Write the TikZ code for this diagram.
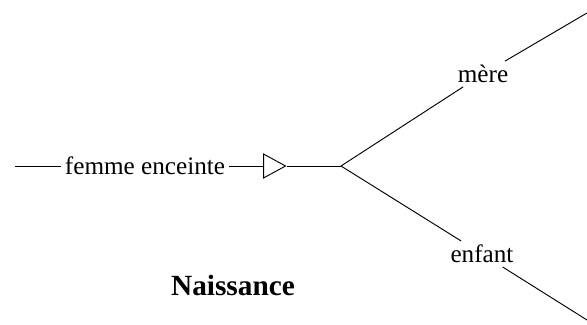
\documentclass[tikz,border=0pt]{standalone}
\usepackage{fontspec}
\setmainfont{Liberation Serif}
\usepackage{tikz}
\usepackage{tkz-euclide}
\usetikzlibrary{shapes.geometric}

\begin{document}
\begin{tikzpicture}[line width=0.8pt,
    lbl/.style={inner sep=3pt,font=\fontsize{21.5}{26}\selectfont},
    tri/.style={draw,isosceles triangle,isosceles triangle stretches,
      minimum height=0.66cm,minimum width=0.72cm,inner sep=0pt}]
                \useasboundingbox (0,0) rectangle (17.61,9.72);
                \tkzDefPoint(0.45,4.74){In}
                \tkzDefPoint(10.23,4.74){S}
                \tkzDefPoint(17.61,9.33){M}
                \tkzDefPoint(17.61,0.12){E}

                \node[lbl] (femme) at (4.35,4.74) {femme enceinte};
                \node[tri] (valve) at (8.12,4.74) {};
                \node[lbl] (mere) at (14.49,7.50) {mère};
                \node[lbl] (enfant) at (14.46,2.10) {enfant};
                \node[font=\bfseries\fontsize{25}{30}\selectfont] (naiss) at (6.99,1.17) {Naissance};

                \draw (In) -- (femme) -- (valve) -- (S);
                \draw (S) -- (mere) -- (M);
                \draw (S) -- (enfant) -- (E);
            \end{tikzpicture}
\end{document}
